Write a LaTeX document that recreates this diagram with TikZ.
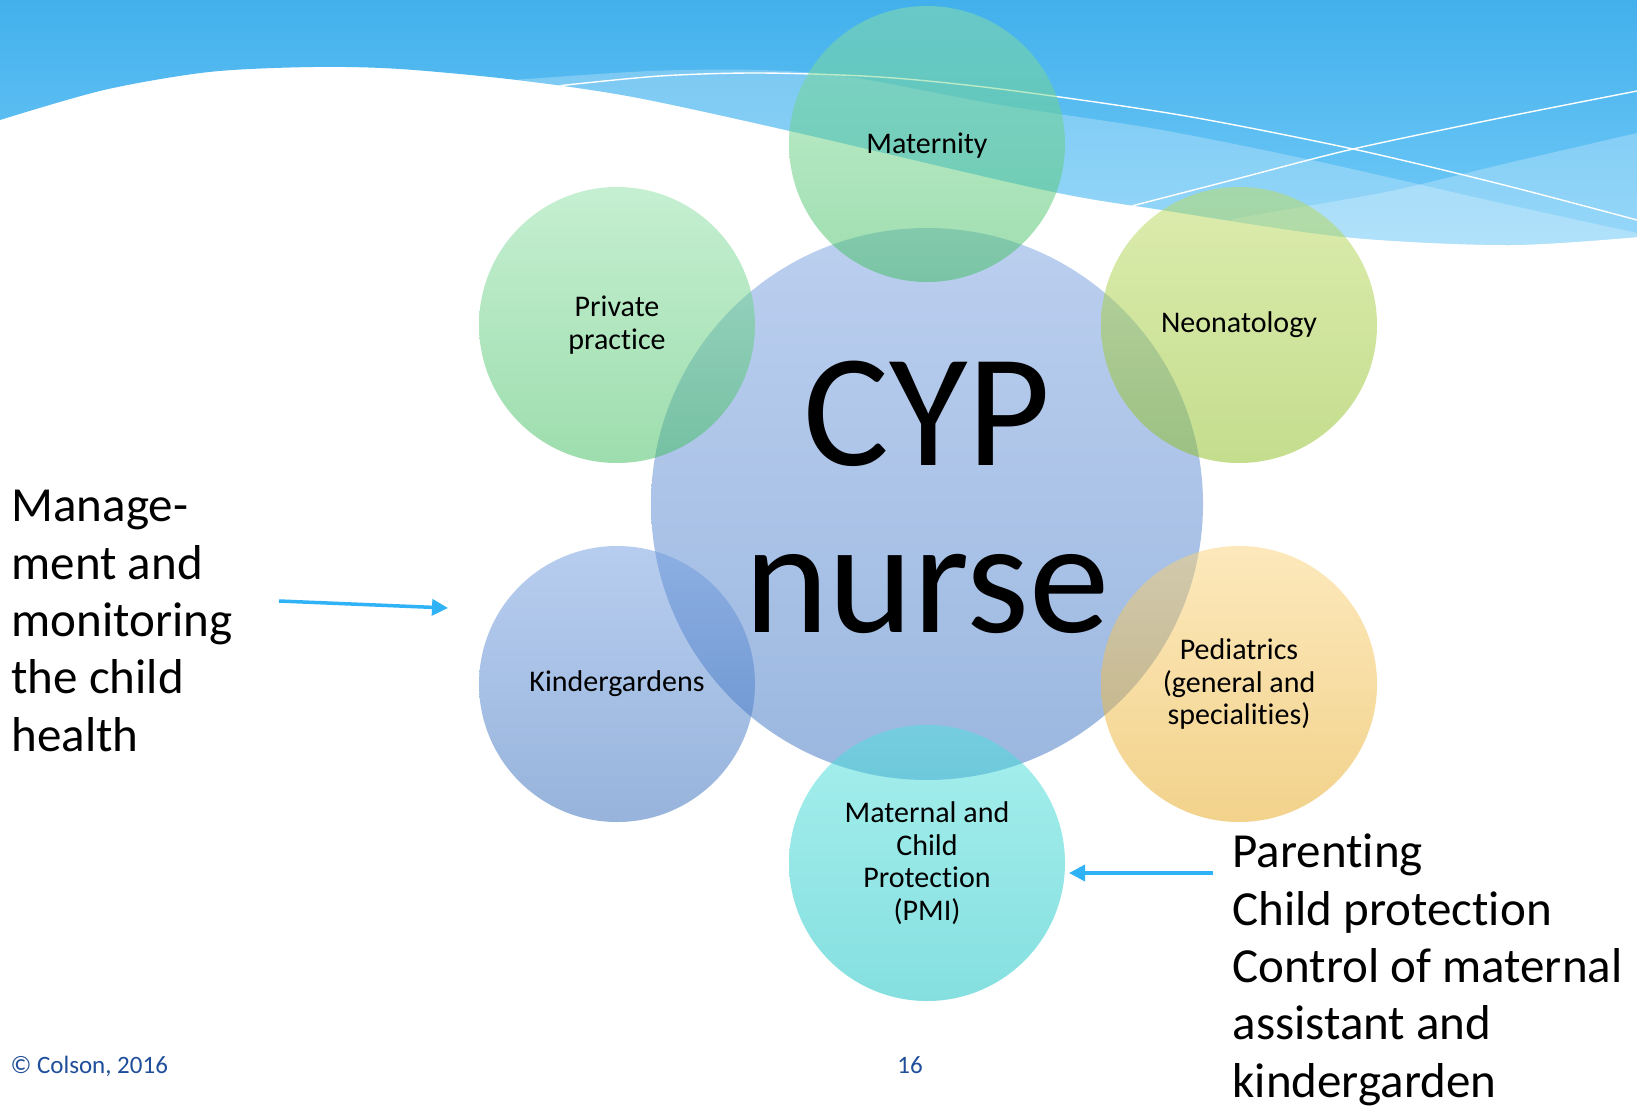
\documentclass[tikz,border=0pt]{standalone}
\usepackage{fontspec}
\setmainfont{Carlito}[Ligatures=NoCommon]
\usetikzlibrary{arrows.meta}
\definecolor{skytop}{HTML}{42B0EC}
\definecolor{skybot}{HTML}{74CBF8}
\definecolor{arrowblue}{HTML}{30B2F6}
\definecolor{footblue}{HTML}{1F4E9A}
\definecolor{cenT}{HTML}{79A1E1}\definecolor{cenB}{HTML}{3971C1}
\definecolor{grnT}{HTML}{8DE1A5}\definecolor{grnB}{HTML}{3DBD5D}
\definecolor{limT}{HTML}{BBDB5F}\definecolor{limB}{HTML}{8BBD1D}
\definecolor{oraT}{HTML}{FBD379}\definecolor{oraB}{HTML}{E7A719}
\definecolor{cyaT}{HTML}{4DE1DD}\definecolor{cyaB}{HTML}{0DC1C1}
\definecolor{bluT}{HTML}{719DE1}\definecolor{bluB}{HTML}{3169B9}
\begin{document}
\begin{tikzpicture}[x=1pt,y=-1pt,
  bub/.style={circle, minimum size=276pt, inner sep=0pt, fill opacity=0.5, text opacity=1,
    align=center, font=\fontsize{30}{32.5}\selectfont},
  bigbub/.style={circle, minimum size=552pt, inner sep=0pt, fill opacity=0.5},
  sidetxt/.style={anchor=base west, align=left, font=\fontsize{49}{57.3}\selectfont},
  arr/.style={draw=arrowblue, line width=3.5pt, -{Triangle[length=16pt,width=16pt]}},
  wline/.style={draw=white, line width=1.4pt},
  band/.style={fill=white, fill opacity=0.25}]
% background
\fill[white] (0,0) rectangle (1637,1106);
\useasboundingbox (0,0) rectangle (1637,1106);
% sky
\shade[top color=skytop, bottom color=skybot]
  (0,0) -- (1637,0) -- (1637,237)
  -- plot[smooth] coordinates {(1637,237) (1508,245) (1345,237) (1162,210) (1044,190) (790,131) (633,97) (517,80) (400,69) (313,67) (209,72) (104,90) (0,120)}
  -- cycle;
% light bands
\begin{scope}
\clip (0,0) -- (1637,0) -- (1637,237)
  -- plot[smooth] coordinates {(1637,237) (1508,245) (1345,237) (1162,210) (1044,190) (790,131) (633,97) (517,80) (400,69) (313,67) (209,72) (104,90) (0,120)}
  -- cycle;
\fill[band] plot[smooth] coordinates {(513,80) (650,71) (760,70) (850,77) (1000,105) (1162,130) (1325,163) (1487,200) (1637,233)}
  -- (1637,270) -- (513,270) -- cycle;
\fill[band] plot[smooth] coordinates {(1180,232) (1244,217) (1386,192) (1508,163) (1637,133)}
  -- (1637,270) -- (1180,270) -- cycle;
\draw[wline] plot[smooth] coordinates {(557,86) (660,76) (760,73) (880,77) (1000,89) (1180,115) (1353,149) (1500,184) (1637,220)};
\draw[wline] plot[smooth] coordinates {(1120,209) (1240,178) (1353,149) (1500,118) (1637,91)};
\end{scope}
% circles
\node[bigbub, top color=cenT, bottom color=cenB] (cyp) at (927,504) {};
\node[bub, top color=grnT, bottom color=grnB, text height=24pt] (mat) at (927,144) {Maternity};
\node[bub, top color=grnT, bottom color=grnB] (pri) at (617,325) {Private\\practice};
\node[bub, top color=limT, bottom color=limB] (neo) at (1239,325) {Neonatology};
\node[bub, top color=bluT, bottom color=bluB] (kin) at (617,684) {Kindergardens};
\node[bub, top color=oraT, bottom color=oraB] (ped) at (1239,684) {Pediatrics\\(general and\\specialities)};
\node[bub, top color=cyaT, bottom color=cyaB] (pmi) at (927,863) {Maternal and\\Child\\Protection\\(PMI)};
% centre text
\node[anchor=base, font=\fontsize{161}{163}\selectfont] (cypA) at (927,465) {CYP};
\node[anchor=base, font=\fontsize{161}{163}\selectfont] (cypB) at (927,632) {nurse};
% side texts (anchor = baseline of last line)
\node[sidetxt] (lefttxt) at (8,751) {Manage-\\ment and\\monitoring\\the child\\health};
\node[sidetxt] (righttxt) at (1229,1097) {Parenting\\Child protection\\Control of maternal\\assistant and\\kindergarden};
% arrows
\coordinate (la1) at (279,601);
\coordinate (la2) at (448,608);
\draw[arr] (la1) -- (la2);
\coordinate (ra1) at (1213,873);
\coordinate (ra2) at (1069,873);
\draw[arr] (ra1) -- (ra2);
% footer
\node[anchor=base west, font=\fontsize{25}{28}\selectfont, text=footblue] (copy) at (7,1073) {© Colson, 2016};
\node[anchor=base, font=\fontsize{25}{28}\selectfont, text=footblue] (pg) at (910,1073) {16};
\end{tikzpicture}
\end{document}
